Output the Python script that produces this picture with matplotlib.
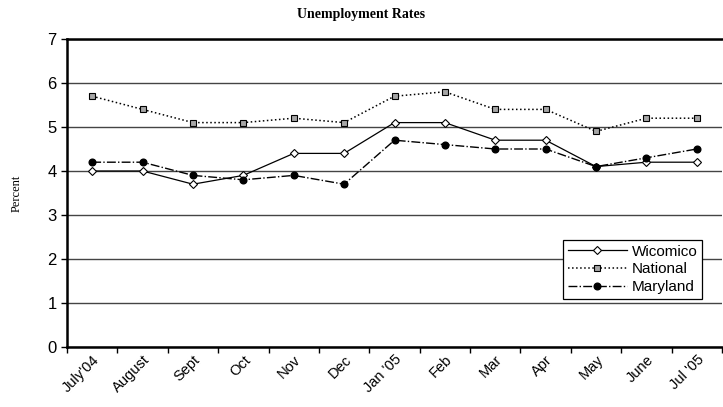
import matplotlib
matplotlib.use("Agg")
import matplotlib.pyplot as plt
import numpy as np

months = ["July'04", "August", "Sept", "Oct", "Nov", "Dec", "Jan '05", "Feb",
          "Mar", "Apr", "May", "June", "Jul '05"]
wicomico = [4.0, 4.0, 3.7, 3.9, 4.4, 4.4, 5.1, 5.1, 4.7, 4.7, 4.1, 4.2, 4.2]
national = [5.7, 5.4, 5.1, 5.1, 5.2, 5.1, 5.7, 5.8, 5.4, 5.4, 4.9, 5.2, 5.2]
maryland = [4.2, 4.2, 3.9, 3.8, 3.9, 3.7, 4.7, 4.6, 4.5, 4.5, 4.1, 4.3, 4.5]

fig = plt.figure(figsize=(7.23, 4.07), dpi=100)
ax = fig.add_axes([67/723, (407-347)/407, (722-67)/723, (347-39)/407])

x = np.arange(len(months)) + 0.5
ax.plot(x, wicomico, '-', color='black', lw=0.9, marker='D', ms=4.2,
        mfc='white', mec='black', mew=0.8, label='Wicomico', zorder=3)
ax.plot(x, national, ':', color='black', lw=1.1, marker='s', ms=4.5,
        mfc='#a6a6a6', mec='black', mew=0.8, label='National', zorder=3)
ax.plot(x, maryland, '-.', color='black', lw=1.0, marker='o', ms=4.8,
        mfc='black', mec='black', label='Maryland', zorder=3)

ax.set_xlim(0, len(months))
ax.set_ylim(0, 7)
ax.set_yticks(range(0, 8))
ax.yaxis.grid(True, color='#444444', lw=1.0)
ax.set_axisbelow(True)

ax.set_xticks(range(0, len(months) + 1))
ax.set_xticklabels([])
ax.set_xticks(x, minor=True)
ax.set_xticklabels(months, minor=True, rotation=45, ha='right', va='top',
                   rotation_mode='anchor', fontsize=10.5, family='Liberation Sans')
ax.tick_params(axis='x', which='minor', length=0, pad=4)
ax.tick_params(axis='x', which='major', length=4, direction='out', width=1)
ax.tick_params(axis='y', length=4, direction='out', width=1, labelsize=12)
for lab in ax.get_yticklabels():
    lab.set_family('Liberation Sans')

ax.spines['right'].set_visible(False)
ax.spines['top'].set_linewidth(1.8)
ax.spines['left'].set_linewidth(1.8)
ax.spines['bottom'].set_linewidth(1.8)

ax.set_ylabel('Percent', family='Liberation Serif', fontsize=9, labelpad=18)
fig.text(0.5, 0.965, 'Unemployment Rates', ha='center', va='center',
         family='Liberation Serif', fontweight='bold', fontsize=10)

leg = ax.legend(loc='upper left', bbox_to_anchor=((563-67)/655, (347-240)/308),
                prop={'family': 'Liberation Sans', 'size': 11},
                frameon=True, fancybox=False, edgecolor='black', framealpha=1,
                borderpad=0.3, labelspacing=0.25, handlelength=3.9, handletextpad=0.3,
                borderaxespad=0)
leg.get_frame().set_linewidth(0.9)

fig.savefig('out.png', dpi=100)
